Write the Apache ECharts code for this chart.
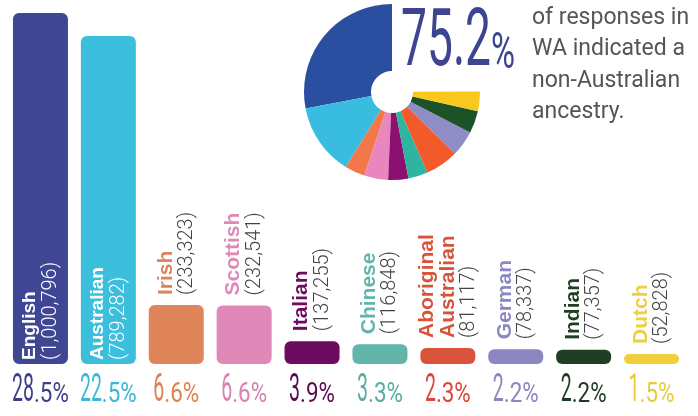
<!DOCTYPE html>
<html><head><meta charset="utf-8">
<script src="https://cdn.jsdelivr.net/npm/echarts@6/dist/echarts.min.js"></script>
<style>html,body{margin:0;padding:0;background:#fff}#c{width:698px;height:416px}</style>
</head><body><div id="c"></div>
<script>
// ---- data ----
const categories = ['English','Australian','Irish','Scottish','Italian','Chinese','Aboriginal Australian','German','Indian','Dutch'];
const counts = [1000796, 789282, 233323, 232541, 137255, 116848, 81117, 78337, 77357, 52828];
const percents = ['28.5','22.5','6.6','6.6','3.9','3.3','2.3','2.2','2.2','1.5'];
const headline = '75.2';
const pieShares = [28.0, 13.2, 3.7, 4.4, 3.7, 3.6, 6.1, 4.7, 4.1, 3.6];
const sentence = ['of responses in','WA indicated a','non-Australian','ancestry.'];

// ---- style ----
const barColors = ['#3f4694','#3bbfdd','#e0845a','#e088b8','#6e0a5f','#62b5a9','#d9533a','#8b87c3','#1e3f22','#efd03c'];
const pctColors = ['#3d3f8a','#3bb8d8','#e0824f','#d982b0','#5c0a52','#5aae9f','#d9473a','#8a86c2','#1e3a20','#e6cc3c'];
const pieColors = ['#2b4fa0','#38bde0','#f2784b','#ea86be','#8c1070','#2eb5a0','#f25a2c','#8f8dc6','#1c5227','#f8c81c'];
// stylised (non-linear) value scale of the original, expressed as axis breaks
const scaleBreaks = [
  {start: 3000, end: 50000, gap: 14900},
  {start: 57000, end: 75000, gap: 2000},
  {start: 84000, end: 114000, gap: 2000},
  {start: 119000, end: 135000, gap: 2000},
  {start: 150000, end: 220000, gap: 48500},
  {start: 800000, end: 990000, gap: 26000}
];

const chart = echarts.init(document.getElementById('c'), null, {renderer: 'canvas'});

function labelFor(i) {
  const name = categories[i];
  const nm = name.length > 12 ? name.split(' ').map(s => '{n|' + s + '}').join('\n') : '{n|' + name + '}';
  const txt = nm + '\n{c|(' + counts[i].toLocaleString('en-US') + ')}';
  const inside = i < 2;
  return {
    show: true,
    position: inside ? 'insideBottom' : 'top',
    distance: inside ? 7 : 13,
    offset: [-3, 0],
    rotate: 90, align: 'left', verticalAlign: 'middle',
    formatter: () => txt,
    rich: {
      n: {fontFamily: 'Liberation Sans', fontWeight: 'bold', fontSize: inside ? 19 : 21, lineHeight: 21, color: inside ? '#ffffff' : barColors[i]},
      c: {fontFamily: 'Roboto', fontWeight: 300, fontSize: 20, lineHeight: 21, color: inside ? '#ffffff' : '#444444'}
    }
  };
}

const barData = counts.map((v, i) => ({
  value: v,
  itemStyle: {color: barColors[i], borderRadius: 6},
  label: labelFor(i)
}));

const pieData = pieShares.map((v, i) => ({name: categories[i], value: v, itemStyle: {color: pieColors[i]}}));
pieData.push({name: 'rest', value: 100 - pieShares.reduce((a, b) => a + b, 0), itemStyle: {color: 'rgba(0,0,0,0)'}});

chart.setOption({
  animation: false,
  backgroundColor: '#ffffff',
  grid: {left: 6.5, right: 12.5, top: 13, bottom: 52},
  xAxis: {type: 'category', data: categories, axisLine: {show: false}, axisTick: {show: false}, axisLabel: {show: false}},
  yAxis: {type: 'value', min: 0, max: 1000796, show: false, splitLine: {show: false},
          breaks: scaleBreaks, breakArea: {show: false}},
  series: [
    {type: 'bar', data: barData, barWidth: 55, silent: true},
    {type: 'pie', center: [392, 92], radius: [21, 88], startAngle: 90, clockwise: false,
     label: {show: false}, labelLine: {show: false}, silent: true, data: pieData}
  ]
});

// ---- text graphics placed with the library's axis ----
const ctx = document.createElement('canvas').getContext('2d');
function measure(t, font) { ctx.font = font; return ctx.measureText(t).width; }

const g = [];
categories.forEach((c, i) => {
  const x = chart.convertToPixel({xAxisIndex: 0}, c);
  const parts = percents[i].split('.');
  const big = parts[0], small = '.' + parts[1] + '%';
  const f1 = '400 39px Roboto', f2 = '400 28px Roboto';
  const s1 = 0.5, s2 = 0.8;
  const w1 = measure(big, f1) * s1, w2 = measure(small, f2) * s2;
  const left = x - (w1 + w2) / 2;
  g.push({type: 'text', x: left, y: 405 - 0.34 * 39, scaleX: s1, silent: true,
    style: {text: big, font: f1, fill: pctColors[i], align: 'left', verticalAlign: 'middle'}});
  g.push({type: 'text', x: left + w1, y: 405 - 0.34 * 28, scaleX: s2, silent: true,
    style: {text: small, font: f2, fill: pctColors[i], align: 'left', verticalAlign: 'middle'}});
});

const hf = '400 80px Roboto';
const hs = 90 / measure(headline, hf);
g.push({type: 'text', x: 401, y: 72 - 0.34 * 80, scaleX: hs, silent: true,
  style: {text: headline, font: hf, fill: '#3d4592', align: 'left', verticalAlign: 'middle'}});
const pf = '400 50px Roboto';
const ps = 24 / measure('%', pf);
g.push({type: 'text', x: 491, y: 72 - 0.34 * 50, scaleX: ps, silent: true,
  style: {text: '%', font: pf, fill: '#3d4592', align: 'left', verticalAlign: 'middle'}});

g.push({type: 'text', x: 532, y: 2, silent: true,
  style: {text: sentence.join('\n'), font: '400 23px Roboto', lineHeight: 31.5, fill: '#555555', align: 'left', verticalAlign: 'top'}});

chart.setOption({graphic: g});
</script>
</body></html>
